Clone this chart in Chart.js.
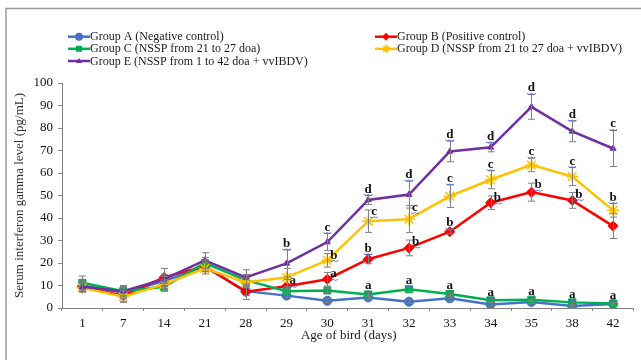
<!DOCTYPE html>
<html>
<head>
<meta charset="utf-8">
<script src="https://cdn.jsdelivr.net/npm/chart.js@4"></script>
<style>
  html, body { margin: 0; padding: 0; background: #fff; }
  #wrap { width: 641px; height: 360px; position: relative; }
</style>
</head>
<body>
<div id="wrap"><canvas id="chart" width="641" height="360"></canvas></div>
<script>
// Age of bird (days)
const ages = ['1', '7', '14', '21', '28', '29', '30', '31', '32', '33', '34', '35', '38', '42'];

// Serum interferon gamma level (pg/mL)
const groupA = [10, 6.8, 12, 18.3, 7.5, 5.5, 3.2, 4.7, 2.8, 4.3, 1.6, 2.7, 0.9, 1.8];
const groupB = [9.4, 5.5, 13.6, 18.6, 7.2, 9.7, 12.8, 21.7, 26.7, 33.9, 46.8, 51.5, 47.8, 36.4];
const groupC = [11.2, 7.5, 9.4, 20, 12.4, 7.5, 7.8, 6, 8.3, 6.2, 3.4, 3.7, 2.5, 2];
const groupD = [9, 5, 10.5, 17.6, 11.4, 13.6, 21.2, 38.6, 39.5, 49.7, 57, 63.6, 58.4, 43.4];
const groupE = [9.4, 7.5, 12.8, 21.2, 13.6, 19.8, 29.3, 48, 50.4, 69.6, 71.4, 89.4, 78.5, 70.9];

// error bars (+/-)
const errA = [2, 2.5, 2, 2, 2, 1, 0.8, 0.8, 0.8, 1.5, 0.8, 0.8, 0.6, 0.6];
const errB = [2, 2.5, 4, 2.5, 3.4, 3, 3, 2, 3.5, 1, 3, 4, 3.5, 5.5];
const errC = [3, 2.5, 2, 2.5, 2.5, 1, 1, 1, 1, 1, 0.8, 0.8, 0.8, 0.8];
const errD = [2, 2.5, 2, 2.5, 2, 4, 3, 5, 6, 5, 4, 3, 4, 3];
const errE = [2, 2, 2, 3.4, 3.4, 6, 3.8, 2, 6, 4.6, 2, 5.5, 4.6, 8];

// significance letters (null = none); 'u' above the bar, 'r' beside the cap
const lettersB = [null, null, null, null, null, 'a', 'a', 'b', 'b', 'b', 'b', 'b', 'b', null];
const lettersC = [null, null, null, null, null, null, null, 'a', 'a', 'a', 'a', 'a', 'a', 'a'];
const lettersD = [null, null, null, null, null, null, 'b', 'c', 'c', 'c', 'c', 'c', 'c', 'b'];
const lettersE = [null, null, null, null, null, 'b', 'c', 'd', 'd', 'd', 'd', 'd', 'd', 'c'];
const sideB = [null, null, null, null, null, 'r', 'r', 'u', 'r', 'u', 'r', 'r', 'r', null];
const sideD = [null, null, null, null, null, null, 'r', 'r', 'r', 'u', 'u', 'u', 'u', 'u'];

const yTicks = [0, 10, 20, 30, 40, 50, 60, 70, 80, 90, 100];

const legendNames = [
  'Group A (Negative control)',
  'Group B (Positive control)',
  'Group C (NSSP from 21 to 27 doa)',
  'Group D (NSSP from 21 to 27 doa + vvIBDV)',
  'Group E (NSSP from 1 to 42 doa + vvIBDV)'
];

const serif = '"Liberation Serif", "Times New Roman", serif';

function makeSet(i, data, err, color, style, radius, letters, side) {
  return {
    label: legendNames[i],
    data: data,
    err: err,
    letters: letters,
    side: side,
    borderColor: color,
    backgroundColor: color,
    pointStyle: style,
    pointRadius: radius,
    pointBorderColor: color,
    pointBackgroundColor: color,
    pointBorderWidth: style === 'star' ? 1.5 : 1,
    borderWidth: 2.5,
    tension: 0,
    order: 5 - i
  };
}

function marker(ctx, style, r, x, y, color) {
  ctx.save();
  ctx.fillStyle = color;
  ctx.strokeStyle = color;
  ctx.lineWidth = 1.5;
  ctx.beginPath();
  if (style === 'circle') {
    ctx.arc(x, y, r, 0, Math.PI * 2);
    ctx.fill();
  } else if (style === 'rectRot') {
    ctx.moveTo(x, y - r); ctx.lineTo(x + r, y); ctx.lineTo(x, y + r); ctx.lineTo(x - r, y);
    ctx.closePath(); ctx.fill();
  } else if (style === 'rect') {
    const s = r * 0.75;
    ctx.rect(x - s, y - s, s * 2, s * 2); ctx.fill();
  } else if (style === 'triangle') {
    ctx.moveTo(x, y - r); ctx.lineTo(x + r, y + r * 0.7); ctx.lineTo(x - r, y + r * 0.7);
    ctx.closePath(); ctx.fill();
  } else if (style === 'star') {
    for (let k = 0; k < 4; k++) {
      const a = k * Math.PI / 4;
      ctx.moveTo(x - r * Math.cos(a), y - r * Math.sin(a));
      ctx.lineTo(x + r * Math.cos(a), y + r * Math.sin(a));
    }
    ctx.stroke();
  }
  ctx.restore();
}

const extras = {
  id: 'extras',
  beforeDraw(chart) {
    const ctx = chart.ctx;
    ctx.save();
    ctx.fillStyle = '#fff';
    ctx.fillRect(0, 0, chart.width, chart.height);
    ctx.strokeStyle = '#9a9a9a';
    ctx.lineWidth = 1.5;
    ctx.beginPath();
    ctx.moveTo(6, 360); ctx.lineTo(6, 8.5); ctx.lineTo(641, 8.5);
    ctx.stroke();
    ctx.restore();
  },
  afterDatasetsDraw(chart) {
    const ctx = chart.ctx;
    const xs = chart.scales.x, ys = chart.scales.y;
    ctx.save();
    // error bars
    ctx.strokeStyle = '#7f7f7f';
    ctx.lineWidth = 1;
    chart.data.datasets.forEach(ds => {
      ds.data.forEach((v, j) => {
        const x = Math.round(xs.getPixelForValue(j)) + 0.5;
        const y1 = ys.getPixelForValue(v + ds.err[j]);
        const y2 = ys.getPixelForValue(Math.max(0, v - ds.err[j]));
        ctx.beginPath();
        ctx.moveTo(x, y1); ctx.lineTo(x, y2);
        ctx.moveTo(x - 3.5, y1); ctx.lineTo(x + 3.5, y1);
        ctx.moveTo(x - 3.5, y2); ctx.lineTo(x + 3.5, y2);
        ctx.stroke();
      });
    });
    // letters
    ctx.font = 'bold 13px ' + serif;
    ctx.fillStyle = '#111';
    chart.data.datasets.forEach(ds => {
      if (!ds.letters) return;
      ds.letters.forEach((t, j) => {
        if (!t) return;
        const x = xs.getPixelForValue(j);
        const capY = ys.getPixelForValue(ds.data[j] + ds.err[j]);
        const side = ds.side ? ds.side[j] : 'u';
        const w = ctx.measureText(t).width;
        let lx, by;
        if (side === 'r') {
          lx = x + 3; by = capY + 5;
        } else {
          lx = x - w / 2; by = capY - 3;
        }
        ctx.fillText(t, lx, by);
        // spell-check squiggle
        ctx.save();
        ctx.strokeStyle = '#3b5bdb';
        ctx.lineWidth = 0.8;
        ctx.beginPath();
        for (let k = 0; k <= 4; k++) {
          const px = lx - 1 + k * (w + 2) / 4;
          const py = by + 2 + (k % 2 ? 1 : 0);
          if (k === 0) ctx.moveTo(px, py); else ctx.lineTo(px, py);
        }
        ctx.stroke();
        ctx.restore();
      });
    });
    ctx.restore();
  },
  afterDraw(chart) {
    const ctx = chart.ctx;
    const area = chart.chartArea;
    ctx.save();
    // legend
    const cols = [68, 375];
    const rows = [36.7, 48.8, 61];
    ctx.font = '12px ' + serif;
    ctx.textBaseline = 'middle';
    ctx.fillStyle = '#1a1a1a';
    chart.data.datasets.forEach((ds, i) => {
      const x0 = cols[i % 2], y0 = rows[Math.floor(i / 2)];
      ctx.strokeStyle = ds.borderColor;
      ctx.lineWidth = 2.5;
      ctx.beginPath(); ctx.moveTo(x0, y0); ctx.lineTo(x0 + 22, y0); ctx.stroke();
      marker(ctx, ds.pointStyle, ds.pointStyle === 'triangle' ? 3 : 4, x0 + 11, y0, ds.borderColor);
      ctx.fillText(ds.label, x0 + 22, y0 + 0.5);
    });
    // x axis title
    ctx.font = '13px ' + serif;
    ctx.textAlign = 'center';
    ctx.fillText('Age of bird (days)', (area.left + area.right) / 2 + 1, 336);
    // y axis title (partly cut off at the left edge, as in the figure)
    ctx.beginPath();
    ctx.rect(13, 0, 60, 360);
    ctx.clip();
    ctx.translate(22.5, (area.top + area.bottom) / 2);
    ctx.rotate(-Math.PI / 2);
    ctx.textBaseline = 'alphabetic';
    ctx.fillStyle = '#333';
    ctx.fillText('Serum interferon gamma level (pg/mL)', 0, 0);
    ctx.restore();
  }
};

new Chart(document.getElementById('chart'), {
  type: 'line',
  data: {
    labels: ages,
    datasets: [
      makeSet(0, groupA, errA, '#4472C4', 'circle', 4.5, null, null),
      makeSet(1, groupB, errB, '#FF0000', 'rectRot', 5, lettersB, sideB),
      makeSet(2, groupC, errC, '#00B050', 'rect', 5, lettersC, null),
      makeSet(3, groupD, errD, '#FFC000', 'star', 6, lettersD, sideD),
      makeSet(4, groupE, errE, '#7030A0', 'triangle', 3.5, lettersE, null)
    ]
  },
  options: {
    responsive: false,
    devicePixelRatio: 1,
    animation: false,
    layout: { padding: { top: 83, right: 0, bottom: 0, left: 0 } },
    plugins: { legend: { display: false }, tooltip: { enabled: false }, title: { display: false } },
    scales: {
      x: {
        offset: true,
        grid: { offset: true, drawOnChartArea: false, drawTicks: true, tickLength: 3, color: '#888' },
        border: { color: '#7f7f7f', width: 1 },
        ticks: { color: '#111', font: { family: serif, size: 13 }, padding: 5, maxRotation: 0, autoSkip: false },
        afterFit(s) { s.height = 52; }
      },
      y: {
        min: 0,
        max: 100,
        afterBuildTicks(s) { s.ticks = yTicks.map(v => ({ value: v })); },
        grid: { drawOnChartArea: false, drawTicks: true, tickLength: 4, color: '#888' },
        border: { color: '#7f7f7f', width: 1 },
        ticks: { color: '#111', font: { family: serif, size: 13 }, padding: 5 },
        afterFit(s) { s.width = 62; }
      }
    }
  },
  plugins: [extras]
});
</script>
</body>
</html>
